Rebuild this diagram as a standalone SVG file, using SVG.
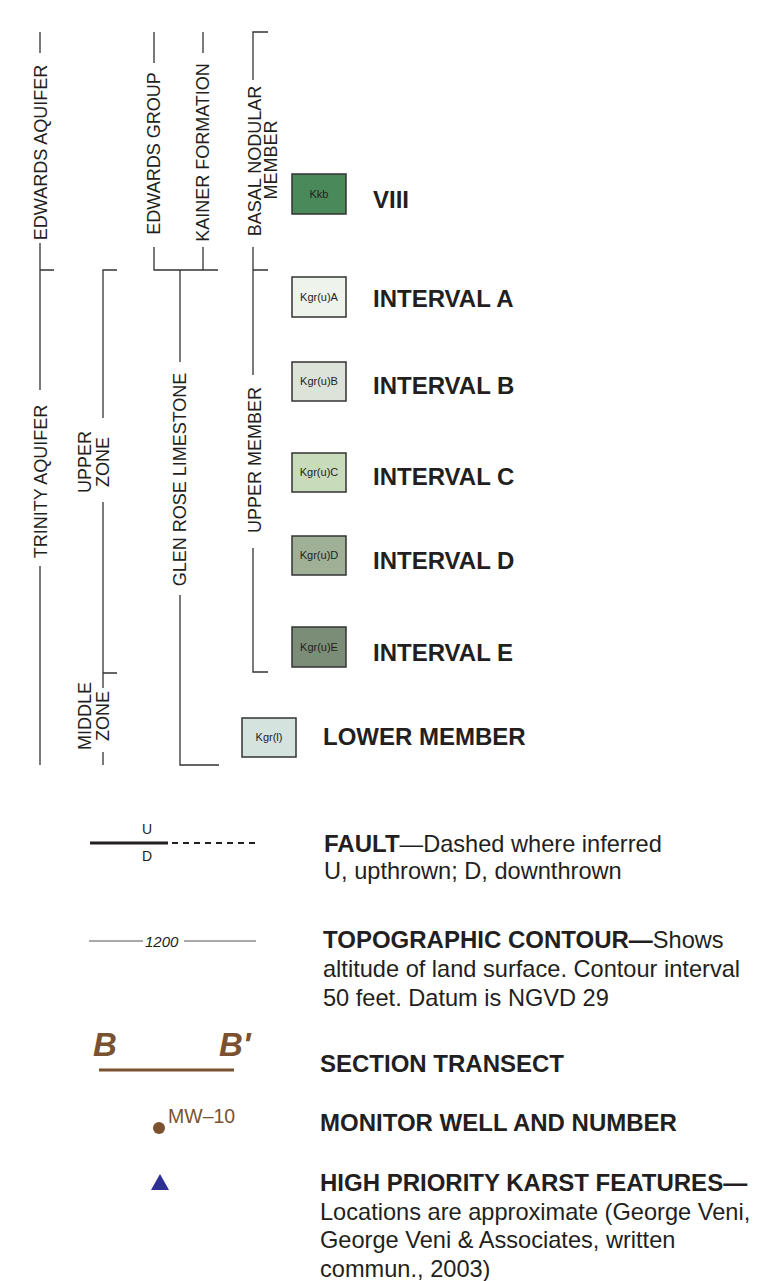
<svg xmlns="http://www.w3.org/2000/svg" width="783" height="1281" viewBox="0 0 783 1281">
<style>
text{font-family:"Liberation Sans",Arial,Helvetica,sans-serif;fill:#231f20}
.rot{font-size:18px}
.lbl{font-size:24px;font-weight:bold}
.body{font-size:23.6px}
.b{font-weight:bold;font-size:24px}
.box{stroke:#333;stroke-width:1.5}
.code{font-size:11px;text-anchor:middle}
.br{fill:none;stroke:#333;stroke-width:1.3}
.brown{fill:#7a5230}
</style>
<rect width="783" height="1281" fill="#fff"/>
<g id="connectors">
<path class="br" d="M40,32V53M40,243V390M40,270H54M40,566V765"/>
<path class="br" d="M117,270H103V418M103,502V688M103,673H117M103,752V765"/>
<path class="br" d="M154,32V63M154,247V270H218M203,32V53M203,247V270M180,270V362M180,595V765H219"/>
<path class="br" d="M268,32H253V80M253,247V375M253,270H268M253,548V672H268"/>
</g>
<g id="column-labels">
<text class="rot" transform="translate(47,152.5) rotate(-90)" text-anchor="middle">EDWARDS AQUIFER</text>
<text class="rot" transform="translate(47,481.5) rotate(-90)" text-anchor="middle">TRINITY AQUIFER</text>
<text class="rot" transform="translate(91,462) rotate(-90)" text-anchor="middle">UPPER</text>
<text class="rot" transform="translate(109,462) rotate(-90)" text-anchor="middle">ZONE</text>
<text class="rot" transform="translate(91,716) rotate(-90)" text-anchor="middle">MIDDLE</text>
<text class="rot" transform="translate(109,716) rotate(-90)" text-anchor="middle">ZONE</text>
<text class="rot" transform="translate(160,153.5) rotate(-90)" text-anchor="middle">EDWARDS GROUP</text>
<text class="rot" transform="translate(209,152.5) rotate(-90)" text-anchor="middle">KAINER FORMATION</text>
<text class="rot" transform="translate(186,479.5) rotate(-90)" text-anchor="middle">GLEN ROSE LIMESTONE</text>
<text class="rot" transform="translate(261,161) rotate(-90)" text-anchor="middle">BASAL NODULAR</text>
<text class="rot" transform="translate(277,160) rotate(-90)" text-anchor="middle">MEMBER</text>
<text class="rot" transform="translate(261,460) rotate(-90)" text-anchor="middle">UPPER MEMBER</text>
</g>
<g id="kkb">
<rect class="box" x="292" y="174" width="54" height="40" fill="#4a8a5a"/>
<text class="code" x="319" y="198">Kkb</text>
<text class="lbl" x="373" y="208">VIII</text>
</g>
<g id="kgr-u-a">
<rect class="box" x="292" y="277" width="54" height="40" fill="#eef3ec"/>
<text class="code" x="319" y="301">Kgr(u)A</text>
<text class="lbl" x="373" y="307">INTERVAL A</text>
</g>
<g id="kgr-u-b">
<rect class="box" x="292" y="362" width="54" height="39" fill="#dde3d8"/>
<text class="code" x="319" y="385">Kgr(u)B</text>
<text class="lbl" x="373" y="394">INTERVAL B</text>
</g>
<g id="kgr-u-c">
<rect class="box" x="292" y="453" width="54" height="39" fill="#c8dcbc"/>
<text class="code" x="319" y="476">Kgr(u)C</text>
<text class="lbl" x="373" y="485">INTERVAL C</text>
</g>
<g id="kgr-u-d">
<rect class="box" x="292" y="536" width="54" height="39" fill="#9fb096"/>
<text class="code" x="319" y="559">Kgr(u)D</text>
<text class="lbl" x="373" y="569">INTERVAL D</text>
</g>
<g id="kgr-u-e">
<rect class="box" x="292" y="627" width="54" height="40" fill="#7b8d77"/>
<text class="code" x="319" y="651">Kgr(u)E</text>
<text class="lbl" x="373" y="661">INTERVAL E</text>
</g>
<g id="kgr-l">
<rect class="box" x="242" y="718" width="54" height="39" fill="#d4e3dd"/>
<text class="code" x="269" y="741">Kgr(l)</text>
<text class="lbl" x="323" y="745">LOWER MEMBER</text>
</g>
<g id="legend-fault">
<line x1="90" y1="843" x2="168" y2="843" stroke="#231f20" stroke-width="3"/>
<line x1="172" y1="843" x2="256" y2="843" stroke="#231f20" stroke-width="2" stroke-dasharray="6 5"/>
<text x="147" y="834" font-size="14" text-anchor="middle">U</text>
<text x="147" y="861" font-size="14" text-anchor="middle">D</text>
<text class="body" x="324" y="852"><tspan class="b">FAULT</tspan>—Dashed where inferred</text>
<text class="body" x="324" y="879">U, upthrown; D, downthrown</text>
</g>
<g id="legend-contour">
<line x1="89" y1="941" x2="143" y2="941" stroke="#555" stroke-width="1"/>
<text x="145" y="947" font-size="15" font-style="italic">1200</text>
<line x1="184" y1="941" x2="256" y2="941" stroke="#555" stroke-width="1"/>
<text class="body" x="323" y="948"><tspan class="b">TOPOGRAPHIC CONTOUR—</tspan>Shows</text>
<text class="body" x="323" y="977">altitude of land surface. Contour interval</text>
<text class="body" x="323" y="1006">50 feet. Datum is NGVD 29</text>
</g>
<g id="legend-transect">
<text class="brown" x="93" y="1056" font-size="33" font-weight="bold" font-style="italic">B</text>
<text class="brown" x="219" y="1056" font-size="33" font-weight="bold" font-style="italic">B'</text>
<line x1="99" y1="1070" x2="234" y2="1070" stroke="#7a5230" stroke-width="3"/>
<text class="lbl" x="320" y="1072">SECTION TRANSECT</text>
</g>
<g id="legend-well">
<circle cx="159" cy="1128" r="6" fill="#7a5230"/>
<text class="brown" x="168" y="1123" font-size="19.5">MW–10</text>
<text class="lbl" x="320" y="1131">MONITOR WELL AND NUMBER</text>
</g>
<g id="legend-karst">
<polygon points="160,1174 169,1190 151,1190" fill="#2e3192"/>
<text class="lbl" x="320" y="1191">HIGH PRIORITY KARST FEATURES—</text>
<text class="body" x="320" y="1220">Locations are approximate (George Veni,</text>
<text class="body" x="320" y="1248">George Veni &amp; Associates, written</text>
<text class="body" x="320" y="1277">commun., 2003)</text>
</g>
</svg>
